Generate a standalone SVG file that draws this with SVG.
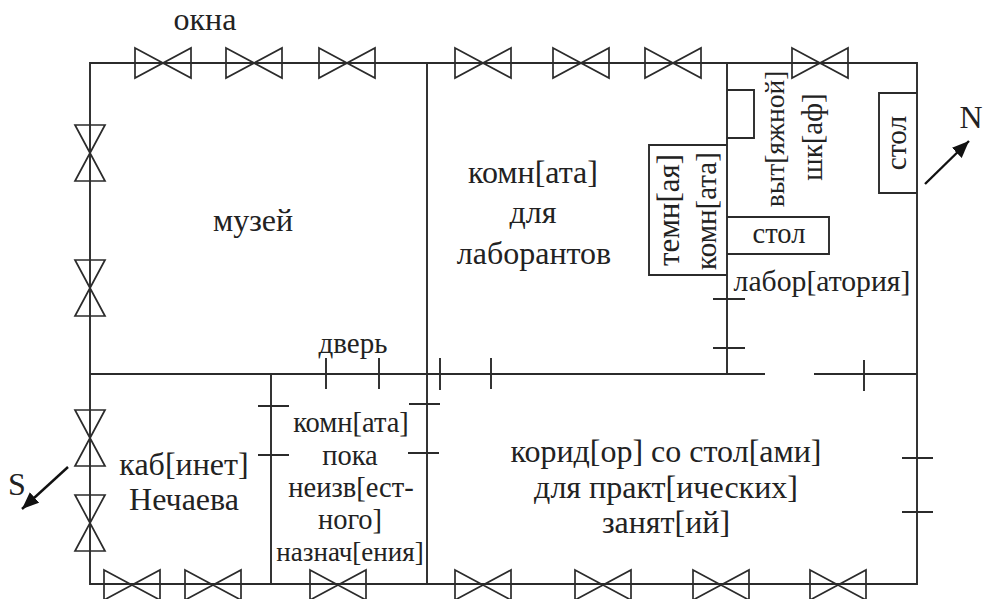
<svg xmlns="http://www.w3.org/2000/svg" width="984" height="599" viewBox="0 0 984 599">
<defs>
<marker id="ah" markerWidth="20" markerHeight="18" refX="17" refY="7" orient="auto" markerUnits="userSpaceOnUse"><path d="M0,0 L17,7 L0,14 Z" fill="#111"/></marker>
<path id="wh" d="M-28,-15 L28,15 L28,-15 L-28,15 Z"/>
<path id="wv" d="M-15,-28 L15,-28 L-15,28 L15,28 Z"/>
</defs>
<style>
.l{fill:none;stroke:#2b2b2b;stroke-width:1.9}
use{fill:none;stroke:#2b2b2b;stroke-width:1.7}
text{font-family:"Liberation Serif","Times New Roman",serif;font-size:32px;fill:#222;text-anchor:middle}
.s{font-size:28.5px}
</style>
<rect width="984" height="599" fill="#fff"/>
<g id="walls" class="l">
<path d="M90,63H917V584H90Z"/>
<path d="M427,63V584M727,63V374M271,374V584M90,374H765M814,374H917"/>
<path d="M727,90H754V138H727"/>
<path d="M727,145H649V275H727"/>
<path d="M727,217H829V254H727"/>
<path d="M917,93H879V193H917"/>
</g>
<g id="doors" class="l">
<path d="M326,358V389M379,358V389M440,358V390M491,358V389M864,360V391"/>
<path d="M258,406H289M258,455H289M409,404H440M408,453H439"/>
<path d="M713,299H745M713,348H745M902,458H933M902,512H933"/>
</g>
<g id="windows">
<use href="#wh" x="163" y="63"/><use href="#wh" x="254" y="63"/><use href="#wh" x="347" y="63"/><use href="#wh" x="483" y="63"/><use href="#wh" x="581" y="63"/><use href="#wh" x="673" y="63"/><use href="#wh" x="820" y="63"/>
<use href="#wv" x="90" y="153"/><use href="#wv" x="90" y="288"/><use href="#wv" x="90" y="438"/><use href="#wv" x="90" y="523"/>
<use href="#wh" x="132" y="585"/><use href="#wh" x="213" y="585"/><use href="#wh" x="338" y="585"/><use href="#wh" x="483" y="585"/><use href="#wh" x="603" y="585"/><use href="#wh" x="721" y="585"/><use href="#wh" x="838" y="585"/>
</g>
<g id="compass" class="l" style="stroke:#111;stroke-width:2.4">
<path d="M925,184L969,141" marker-end="url(#ah)"/>
<path d="M68,467L22,509" marker-end="url(#ah)"/>
</g>
<g id="labels">
<text x="205" y="30">окна</text>
<text x="253" y="231">музей</text>
<text x="533" y="183">комн[ата]</text>
<text x="533" y="223">для</text>
<text x="534" y="264">лаборантов</text>
<text x="353" y="353" style="font-size:29px">дверь</text>
<text x="351" y="432" class="s">комн[ата]</text>
<text x="350" y="465" class="s">пока</text>
<text x="351" y="497" class="s">неизв[ест-</text>
<text x="350" y="529" class="s">ного]</text>
<text x="350" y="561" style="font-size:27px">назнач[ения]</text>
<text x="184" y="475">каб[инет]</text>
<text x="184" y="510">Нечаева</text>
<text x="666" y="462">корид[ор] со стол[ами]</text>
<text x="666" y="498">для практ[ических]</text>
<text x="666" y="533">занят[ий]</text>
<text x="779" y="243" class="s">стол</text>
<text x="822" y="291" style="font-size:29.7px">лабор[атория]</text>
<text x="971" y="128">N</text>
<text x="17" y="495">S</text>
<text style="font-size:31px" transform="translate(679,210) rotate(-90)">темн[ая]</text>
<text style="font-size:29px" transform="translate(716,211) rotate(-90)">комн[ата]</text>
<text style="font-size:27.5px" transform="translate(784,139) rotate(-90)">выт[яжной]</text>
<text style="font-size:29px" transform="translate(822,137) rotate(-90)">шк[аф]</text>
<text style="font-size:29.5px" transform="translate(906,143) rotate(-90)">стол</text>
</g>
</svg>
